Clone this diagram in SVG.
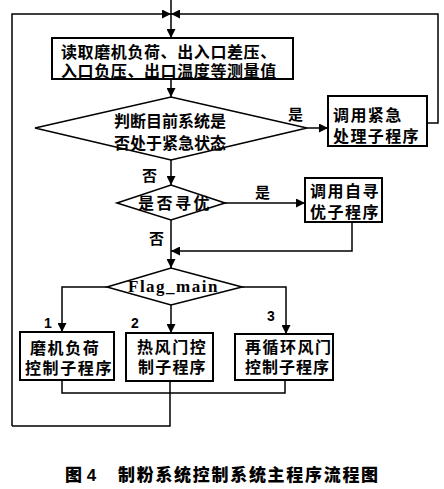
<svg xmlns="http://www.w3.org/2000/svg" width="444" height="489" viewBox="0 0 444 489">
<defs>
<marker id="ah" viewBox="0 0 10 10" refX="10" refY="5" markerWidth="9" markerHeight="9" markerUnits="userSpaceOnUse" orient="auto">
<path d="M0,0 L10,5 L0,10 Z" fill="#000"/>
</marker>
</defs>
<style>
.bx{fill:#fff;stroke:#000;stroke-width:2}
.dm{fill:#fff;stroke:#000;stroke-width:1.6}
.ln{fill:none;stroke:#000;stroke-width:1.5}
.t{font-family:"Liberation Sans","Noto Sans CJK SC",sans-serif;font-weight:bold;font-size:16px;fill:#000}
.lb{font-family:"Liberation Sans","Noto Sans CJK SC",sans-serif;font-weight:bold;font-size:15px;fill:#000}
.num{font-family:"Liberation Sans",sans-serif;font-weight:bold;font-size:14px;fill:#000}
.fl{font-family:"Liberation Serif",serif;font-weight:bold;font-size:17px;letter-spacing:1.5px;fill:#000}
.cap{font-family:"Liberation Sans","Noto Sans CJK SC",sans-serif;font-weight:900;font-size:17px;fill:#000}
</style>
<rect width="444" height="489" fill="#fff"/>
<g id="connectors">
<line class="ln" x1="171" y1="0" x2="171" y2="38" marker-end="url(#ah)"/>
<polyline class="ln" points="12,426 12,14 171,14" marker-end="url(#ah)"/>
<polyline class="ln" points="427,123 438,123 438,14 171,14" marker-end="url(#ah)"/>
<line class="ln" x1="171" y1="79" x2="171" y2="97" marker-end="url(#ah)"/>
<line class="ln" x1="307" y1="128" x2="328" y2="128" marker-end="url(#ah)"/>
<line class="ln" x1="171" y1="160" x2="171" y2="185" marker-end="url(#ah)"/>
<line class="ln" x1="225" y1="203" x2="305" y2="203" marker-end="url(#ah)"/>
<polyline class="ln" points="352,222 352,251 171,251" marker-end="url(#ah)"/>
<line class="ln" x1="171" y1="220" x2="171" y2="268" marker-end="url(#ah)"/>
<polyline class="ln" points="107,287 62,287 62,332" marker-end="url(#ah)"/>
<line class="ln" x1="171" y1="305" x2="171" y2="333" marker-end="url(#ah)"/>
<polyline class="ln" points="242,287 286,287 286,334" marker-end="url(#ah)"/>
<polyline class="ln" points="62,380 62,393 285,393 285,380"/>
<polyline class="ln" points="170,381 170,426 12,426"/>
<text class="lb" x="288" y="120">是</text>
<text class="lb" x="142" y="181">否</text>
<text class="lb" x="255" y="198">是</text>
<text class="lb" x="149" y="244">否</text>
<text class="num" x="44" y="328">1</text>
<text class="num" x="131" y="328">2</text>
<text class="num" x="267" y="321">3</text>
</g>
<g id="read">
<rect class="bx" x="52" y="38" width="241" height="41"/>
<text class="t" x="61" y="58" font-size="17" letter-spacing="0.6">读取磨机负荷、出入口差压、</text>
<text class="t" x="61" y="77" font-size="17" letter-spacing="0.6">入口负压、出口温度等测量值</text>
</g>
<g id="judge">
<polygon class="dm" points="35,128 171,97 307,128 171,160"/>
<text class="t" x="170" y="127" font-size="17" text-anchor="middle">判断目前系统是</text>
<text class="t" x="170" y="149" font-size="17" text-anchor="middle">否处于紧急状态</text>
</g>
<g id="emergency">
<rect class="bx" x="328" y="96" width="99" height="50"/>
<text class="t" x="333" y="121" letter-spacing="1.4">调用紧急</text>
<text class="t" x="333" y="142" letter-spacing="1.4">处理子程序</text>
</g>
<g id="optimize-q">
<polygon class="dm" points="117,203 171,185 225,203 171,220"/>
<text class="t" x="138" y="209" font-size="17" letter-spacing="2.5">是否寻优</text>
</g>
<g id="optimize">
<rect class="bx" x="305" y="178" width="77" height="44"/>
<text class="t" x="310" y="197" letter-spacing="1.5">调用自寻</text>
<text class="t" x="310" y="218" letter-spacing="1.5">优子程序</text>
</g>
<g id="flag">
<polygon class="dm" points="107,287 171,268 242,287 171,305"/>
<text class="fl" x="128" y="292">Flag_main</text>
</g>
<g id="load">
<rect class="bx" x="20" y="332" width="94" height="48"/>
<text class="t" x="30" y="354" letter-spacing="1.6">磨机负荷</text>
<text class="t" x="25" y="374" letter-spacing="1.6">控制子程序</text>
</g>
<g id="hot">
<rect class="bx" x="126" y="333" width="87" height="48"/>
<text class="t" x="137" y="353" letter-spacing="1.6">热风门控</text>
<text class="t" x="138" y="373" letter-spacing="1.2">制子程序</text>
</g>
<g id="recirc">
<rect class="bx" x="235" y="334" width="98" height="46"/>
<text class="t" x="245" y="353" letter-spacing="1.5">再循环风门</text>
<text class="t" x="245" y="373" letter-spacing="1">控制子程序</text>
</g>
<text class="cap" x="65" y="481">图 4</text>
<text class="cap" x="118" y="481" letter-spacing="1.7">制粉系统控制系统主程序流程图</text>
</svg>
